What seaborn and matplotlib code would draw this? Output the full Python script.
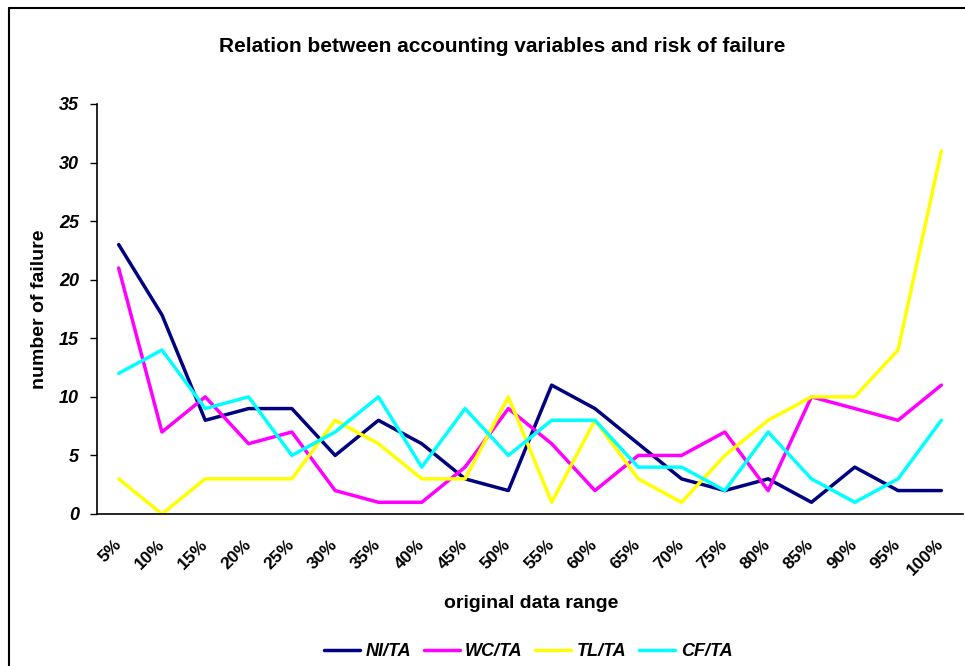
import numpy as np
import pandas as pd
import matplotlib
matplotlib.use("Agg")
import matplotlib.pyplot as plt
import matplotlib.transforms as mtransforms
import seaborn as sns

ranges = ["5%", "10%", "15%", "20%", "25%", "30%", "35%", "40%", "45%", "50%",
          "55%", "60%", "65%", "70%", "75%", "80%", "85%", "90%", "95%", "100%"]
ni_ta = [23, 17, 8, 9, 9, 5, 8, 6, 3, 2, 11, 9, 6, 3, 2, 3, 1, 4, 2, 2]
wc_ta = [21, 7, 10, 6, 7, 2, 1, 1, 4, 9, 6, 2, 5, 5, 7, 2, 10, 9, 8, 11]
tl_ta = [3, 0, 3, 3, 3, 8, 6, 3, 3, 10, 1, 8, 3, 1, 5, 8, 10, 10, 14, 31]
cf_ta = [12, 14, 9, 10, 5, 7, 10, 4, 9, 5, 8, 8, 4, 4, 2, 7, 3, 1, 3, 8]
series = {"NI/TA": ni_ta, "WC/TA": wc_ta, "TL/TA": tl_ta, "CF/TA": cf_ta}
colors = ["#000080", "#FF00FF", "#FFFF00", "#00FFFF"]

rows = []
for name, vals in series.items():
    for i, v in enumerate(vals):
        rows.append({"pos": i, "failures": v, "variable": name})
df = pd.DataFrame(rows)

sns.set_style("white")
plt.rcParams["font.family"] = ["Liberation Sans", "DejaVu Sans"]
plt.rcParams["text.color"] = "black"
plt.rcParams["axes.labelcolor"] = "black"
plt.rcParams["xtick.color"] = "black"
plt.rcParams["ytick.color"] = "black"

fig = plt.figure(figsize=(9.65, 6.66), dpi=100)
ax = fig.add_axes([97 / 965, 152 / 666, 866 / 965, 410 / 666])

sns.lineplot(data=df, x="pos", y="failures", hue="variable", palette=colors,
             linewidth=2.5, sort=False, ax=ax, legend=True)

ax.set_xlim(-0.5, len(ranges) - 0.5)
ax.set_ylim(0, 35)
ax.set_yticks(range(0, 36, 5))
ax.set_xticks(range(len(ranges)))
ax.set_xticklabels(ranges, rotation=45, ha="right", rotation_mode="anchor",
                   va="center", fontsize=12.5, fontweight="bold")
shift = mtransforms.ScaledTranslation(-17 / 100, 0, fig.dpi_scale_trans)
for lab in ax.get_xticklabels():
    lab.set_transform(lab.get_transform() + shift)
for lab in ax.get_yticklabels():
    lab.set_fontsize(13)
    lab.set_fontweight("bold")
    lab.set_fontstyle("italic")
ax.tick_params(axis="x", length=0, pad=20)
ax.tick_params(axis="y", length=5, width=1, color="black", direction="out", left=True, pad=8)

for side in ["top", "right"]:
    ax.spines[side].set_visible(False)
for side in ["left", "bottom"]:
    ax.spines[side].set_color("black")
    ax.spines[side].set_linewidth(1.2)

ax.set_xlabel("original data range", fontsize=14, fontweight="bold", labelpad=0)
ax.xaxis.set_label_coords((531 - 97) / 866, -0.197)
ax.set_ylabel("number of failure", fontsize=14, fontweight="bold")
ax.yaxis.set_label_coords(-0.057, 0.5)

fig.text(502 / 965, 1 - 47 / 666, "Relation between accounting variables and risk of failure",
         ha="center", va="center", fontsize=15, fontweight="bold")

ax.legend(loc="center", bbox_to_anchor=(528 / 965, 1 - 652 / 666),
          bbox_transform=fig.transFigure, ncol=4, frameon=False,
          prop={"size": 13, "weight": "bold", "style": "italic"},
          handlelength=2.0, handletextpad=0.3, columnspacing=0.7, title=None)

# chart area border (left and top edges visible)
fig.add_artist(plt.Line2D([8.5 / 965, 8.5 / 965], [0, 1 - 7.5 / 666], color="black", lw=1.5))
fig.add_artist(plt.Line2D([8.5 / 965, 1], [1 - 7.5 / 666, 1 - 7.5 / 666], color="black", lw=1.5))

fig.savefig("out.png", dpi=100)
